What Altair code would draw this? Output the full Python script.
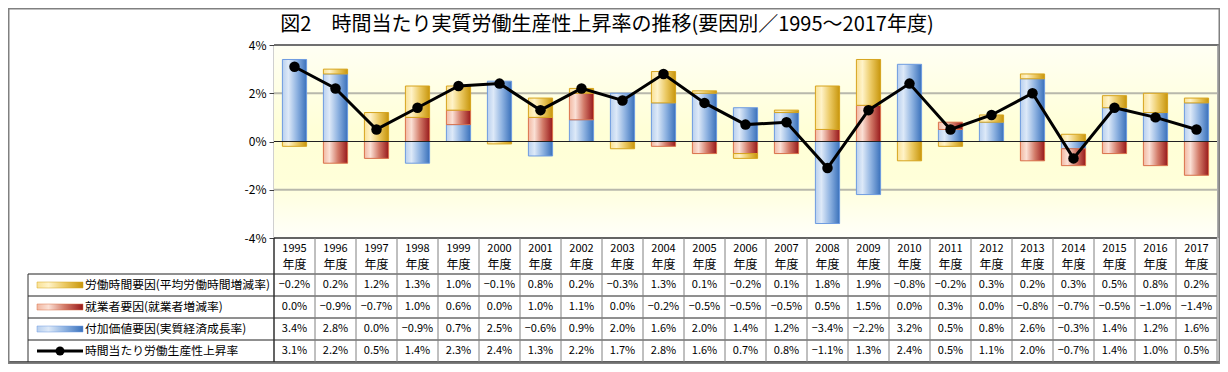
import altair as alt
import pandas as pd

years = [str(y) for y in range(1995, 2018)]
hours = [-0.2, 0.2, 1.2, 1.3, 1.0, -0.1, 0.8, 0.2, -0.3, 1.3, 0.1, -0.2, 0.1, 1.8, 1.9, -0.8, -0.2, 0.3, 0.2, 0.3, 0.5, 0.8, 0.2]
workers = [0.0, -0.9, -0.7, 1.0, 0.6, 0.0, 1.0, 1.1, 0.0, -0.2, -0.5, -0.5, -0.5, 0.5, 1.5, 0.0, 0.3, 0.0, -0.8, -0.7, -0.5, -1.0, -1.4]
value_added = [3.4, 2.8, 0.0, -0.9, 0.7, 2.5, -0.6, 0.9, 2.0, 1.6, 2.0, 1.4, 1.2, -3.4, -2.2, 3.2, 0.5, 0.8, 2.6, -0.3, 1.4, 1.2, 1.6]
productivity = [3.1, 2.2, 0.5, 1.4, 2.3, 2.4, 1.3, 2.2, 1.7, 2.8, 1.6, 0.7, 0.8, -1.1, 1.3, 2.4, 0.5, 1.1, 2.0, -0.7, 1.4, 1.0, 0.5]

series_names = ["労働時間要因(平均労働時間増減率)", "就業者要因(就業者増減率)", "付加価値要因(実質経済成長率)", "時間当たり労働生産性上昇率"]
title_text = "図2　時間当たり実質労働生産性上昇率の推移(要因別／1995～2017年度)"
year_suffix = "年度"
y_ticks = [-4, -2, 0, 2, 4]
grid_vals = [-2, 2]

FONT = "Noto Sans CJK JP"
W, H = 943, 193
PL, PT = 266, 37
TOTW, TOTH = 1212, 356
STEP = W / len(years)

# long data for stacked bars (stack order: value added, workers, hours)
rows = []
for i, y in enumerate(years):
    rows.append({"year": y, "series": "va", "order": 0, "value": value_added[i]})
    rows.append({"year": y, "series": "wk", "order": 1, "value": workers[i]})
    rows.append({"year": y, "series": "hr", "order": 2, "value": hours[i]})
bars_df = pd.DataFrame(rows)
line_df = pd.DataFrame({"year": years, "value": productivity})
one = pd.DataFrame({"a": [0]})

xscale = alt.Scale(domain=years, paddingInner=0.41, paddingOuter=0.205)
yscale = alt.Scale(domain=[-4, 4], nice=False, zero=False)
yaxis = alt.Axis(values=y_ticks, labelExpr="datum.value + '%'", grid=False, title=None,
                 domainColor="#404040", domainWidth=1.5, tickColor="#404040", tickSize=5,
                 labelFont=FONT, labelFontSize=12, labelColor="#000", labelPadding=3)
X = alt.X("year:N", scale=xscale, axis=None)


def hgrad(stops):
    return alt.LinearGradient(gradient="linear", x1=0, x2=1, y1=0, y2=0,
                              stops=[alt.GradientStop(offset=o, color=c) for o, c in stops])


grads = {
    "va": hgrad([(0, "#b9d0ee"), (0.25, "#dde9f8"), (0.6, "#8fb3e1"), (1, "#3a71bb")]),
    "wk": hgrad([(0, "#f1b8a2"), (0.25, "#fbe0d5"), (0.6, "#d27a68"), (1, "#98191b")]),
    "hr": hgrad([(0, "#f9e196"), (0.25, "#fff3c8"), (0.6, "#ebc963"), (1, "#c8960c")]),
}
strokes = {"va": "#6d9be0", "wk": "#d9704a", "hr": "#d6a41e"}

bg_grad = alt.LinearGradient(gradient="linear", x1=0, x2=0, y1=0, y2=1,
                             stops=[alt.GradientStop(offset=0, color="#fffff4"),
                                    alt.GradientStop(offset=0.45, color="#ffffd6"),
                                    alt.GradientStop(offset=0.7, color="#ffffd9"),
                                    alt.GradientStop(offset=1, color="#fffffa")])

layers = []
# plot background
layers.append(alt.Chart(one).mark_rect(fill=bg_grad).encode(
    x=alt.value(0), x2=alt.value(W), y=alt.value(0), y2=alt.value(H)))
# grid lines
layers.append(alt.Chart(pd.DataFrame({"g": grid_vals})).mark_rule(color="#b8b8ac", strokeWidth=2).encode(
    y=alt.Y("g:Q", scale=yscale, axis=yaxis), x=alt.value(0), x2=alt.value(W)))

# stacked bars
for key in ["va", "wk", "hr"]:
    layers.append(
        alt.Chart(bars_df)
        .transform_stack(stack="value", groupby=["year"], as_=["v0", "v1"],
                         sort=[alt.SortField(field="order", order="ascending")])
        .transform_filter(f"datum.series == '{key}' && datum.value != 0")
        .mark_bar(fill=grads[key], stroke=strokes[key], strokeWidth=1)
        .encode(x=X, y=alt.Y("v0:Q", scale=yscale, axis=yaxis), y2="v1:Q")
    )

# zero line
layers.append(alt.Chart(pd.DataFrame({"z": [0]})).mark_rule(color="#202020", strokeWidth=1).encode(
    y=alt.Y("z:Q", scale=yscale, axis=yaxis), x=alt.value(0), x2=alt.value(W)))

# productivity line
layers.append(alt.Chart(line_df).mark_line(color="#000", strokeWidth=3).encode(
    x=X, y=alt.Y("value:Q", scale=yscale, axis=yaxis)))
layers.append(alt.Chart(line_df).mark_circle(color="#000", opacity=1, size=110).encode(
    x=X, y=alt.Y("value:Q", scale=yscale, axis=yaxis)))

# plot frame: top and right border
layers.append(alt.Chart(one).mark_rule(color="#707070", strokeWidth=2).encode(
    x=alt.value(0), x2=alt.value(W + 2), y=alt.value(0)))
layers.append(alt.Chart(one).mark_rule(color="#909090", strokeWidth=1.5).encode(
    x=alt.value(W + 1), y=alt.value(0), y2=alt.value(H)))

# ----- data table -----
row_top = [H + 36, H + 58, H + 80, H + 102]
row_bot = H + 124
# plot bottom line
layers.append(alt.Chart(one).mark_rule(color="#303030", strokeWidth=1.5).encode(
    x=alt.value(0), x2=alt.value(W), y=alt.value(H)))
for yy in row_top:
    layers.append(alt.Chart(one).mark_rule(color="#202020", strokeWidth=1).encode(
        x=alt.value(-246), x2=alt.value(W), y=alt.value(yy)))
layers.append(alt.Chart(one).mark_rule(color="#606060", strokeWidth=2).encode(
    x=alt.value(-PL), x2=alt.value(W + 3), y=alt.value(row_bot)))
# vertical lines
layers.append(alt.Chart(line_df).mark_rule(color="#808080", strokeWidth=1, xOffset=STEP / 2).encode(
    x=X, y=alt.value(H), y2=alt.value(row_bot)))
layers.append(alt.Chart(one).mark_rule(color="#303030", strokeWidth=1.5).encode(
    x=alt.value(0), y=alt.value(H), y2=alt.value(row_bot)))
layers.append(alt.Chart(one).mark_rule(color="#303030", strokeWidth=1).encode(
    x=alt.value(-246), y=alt.value(row_top[0]), y2=alt.value(row_bot)))

# header text
layers.append(alt.Chart(line_df).mark_text(font=FONT, fontSize=11, color="#000", baseline="middle").encode(
    x=X, y=alt.value(H + 11), text="year:N"))
layers.append(alt.Chart(line_df).mark_text(font=FONT, fontSize=12, color="#000", baseline="middle", text=year_suffix).encode(
    x=X, y=alt.value(H + 27)))

# value rows
row_series = [("hr", hours), ("wk", workers), ("va", value_added), ("pr", productivity)]
for r, (key, vals) in enumerate(row_series):
    df = pd.DataFrame({"year": years, "value": vals})
    layers.append(
        alt.Chart(df)
        .transform_calculate(label="format(datum.value, '.1f') + '%'")
        .mark_text(font=FONT, fontSize=11, color="#000", baseline="middle")
        .encode(x=X, y=alt.value(row_top[r] + 11), text="label:N")
    )

# legend column
for r, name in enumerate(series_names):
    cy = row_top[r] + 11
    layers.append(alt.Chart(one).mark_text(font=FONT, fontSize=11.8, color="#000", align="left",
                                           baseline="middle", text=name).encode(
        x=alt.value(-189), y=alt.value(cy)))
for r, key in enumerate(["hr", "wk", "va"]):
    cy = row_top[r] + 11
    layers.append(alt.Chart(one).mark_rect(fill=grads[key], stroke=strokes[key], strokeWidth=0.5).encode(
        x=alt.value(-237), x2=alt.value(-191), y=alt.value(cy - 3), y2=alt.value(cy + 3)))
cy = row_top[3] + 11
layers.append(alt.Chart(one).mark_rule(color="#000", strokeWidth=3).encode(
    x=alt.value(-237), x2=alt.value(-191), y=alt.value(cy)))
layers.append(alt.Chart(one).mark_circle(color="#000", opacity=1, size=80).encode(
    x=alt.value(-214), y=alt.value(cy)))

# title
layers.append(alt.Chart(one).mark_text(font=FONT, fontSize=20, color="#000", align="center",
                                       baseline="middle", text=title_text).encode(
    x=alt.value(333), y=alt.value(-20)))

# outer border
layers.append(alt.Chart(one).mark_rect(fill=None, stroke="#808080", strokeWidth=1.5).encode(
    x=alt.value(-PL + 0.75), x2=alt.value(TOTW - PL - 0.75), y=alt.value(-PT + 0.75), y2=alt.value(TOTH - PT - 0.75)))

chart = alt.layer(*layers).properties(
    width=W, height=H,
    autosize=alt.AutoSizeParams(type="none"),
    padding={"left": PL, "top": PT, "right": TOTW - PL - W, "bottom": TOTH - PT - H},
    background="white",
).configure_view(strokeWidth=0)

chart.save("out.html", embed_options={"renderer": "svg", "actions": False})
